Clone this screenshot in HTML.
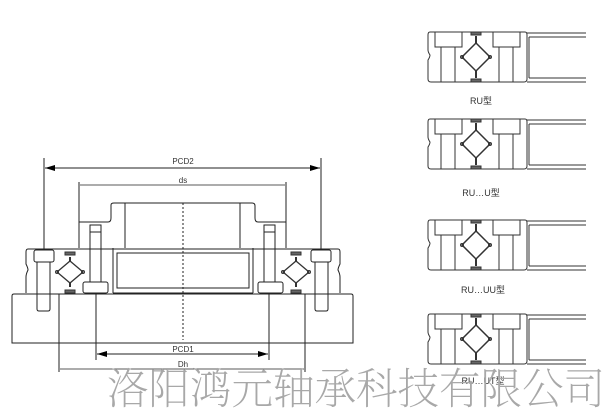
<!DOCTYPE html>
<html><head><meta charset="utf-8"><style>
html,body{margin:0;padding:0;background:#fff;width:614px;height:410px;overflow:hidden}
svg{display:block}
text{font-family:"Liberation Sans","Noto Sans CJK SC",sans-serif}
</style></head><body>
<svg width="614" height="410" viewBox="0 0 614 410" xmlns="http://www.w3.org/2000/svg">
<defs>
<marker id="a" viewBox="0 0 10 6" refX="10" refY="3" markerWidth="10" markerHeight="6" orient="auto-start-reverse" markerUnits="userSpaceOnUse"><path d="M0,0L10,3L0,6z" fill="#000"/></marker>
<g id="sb" fill="none" stroke="#333" stroke-width="1">
  <path d="M430,32 H525 Q527,32 527,35 V79 Q527,82 524,82 H431 Q428,82 428,79 V60 Q430,57 430,55 Q428,52 428,50 V35 Q428,32 430,32Z"/>
  <path d="M435,32 V47 H462 V32 M441,47 V82 M455,47 V82"/>
  <path d="M493,32 V47 H520 V32 M499,47 V82 M513,47 V82"/>
  <path d="M527,33 H586 M529,37 H586 M529,37 V78 M529,78 H586 M527,82 H586"/>
  <path d="M476,36 V43 M476,71 V78" stroke-width="2"/>
  <path d="M476,43 L490,57 L476,71 L462,57Z" stroke-width="1.5"/>
  <rect x="471" y="32" width="10" height="3" fill="#666"/>
  <rect x="471" y="79" width="10" height="3" fill="#666"/>
  <circle cx="462" cy="57" r="1.5"/><circle cx="490" cy="57" r="1.5"/>
</g>
<g id="dia" fill="none" stroke="#333">
  <path d="M0,-15 V-11 M0,11 V15" stroke-width="2"/>
  <path d="M0,-11 L13,0 L0,11 L-13,0Z" stroke-width="1.3"/>
  <circle cx="-13" cy="0" r="1.5"/><circle cx="13" cy="0" r="1.5"/>
  <rect x="-5" y="-20" width="10" height="3" fill="#666"/>
  <rect x="-5" y="18" width="10" height="3" fill="#666"/>
</g>
</defs>

<use href="#sb"/>
<use href="#sb" transform="translate(0,87)"/>
<use href="#sb" transform="translate(0,188)"/>
<use href="#sb" transform="translate(0,282)"/>
<g font-size="9" fill="#333" text-anchor="middle">
<text x="481" y="104">RU型</text>
<text x="481" y="196">RU…U型</text>
<text x="483" y="293">RU…UU型</text>
<text x="483" y="384">RU…UT型</text>
</g>

<g fill="none" stroke="#222" stroke-width="1">
  <path d="M44,158 V250 M321,158 V250 M79,182 V248 M286,182 V248"/>
  <path d="M45,168 H320" marker-start="url(#a)" marker-end="url(#a)"/>
  <path d="M80,185 H285" stroke-width="0.8"/>
  <path d="M97,354 H268" marker-start="url(#a)" marker-end="url(#a)"/>
  <path d="M60,369 H304" stroke-width="0.8"/>
  <path d="M96,294 V360 M269,294 V360 M59,294 V372 M305,294 V372"/>
  <path d="M79,248 V222 H108 Q111,222 111,218 V205 Q111,203 114,203 H252 Q255,203 255,206 V218 Q255,222 258,222 H286 V248"/>
  <path d="M125,203 V248 M240,203 V248"/>
  <path d="M183,203 V340" stroke-dasharray="2,2"/>
  <path d="M28,249 H338 Q340,249 340,252 V264 Q338,268 338,270 Q340,274 340,277 V293 M28,249 Q26,249 26,252 V264 Q28,268 28,270 Q26,274 26,277 V293"/>
  <path d="M113,248 V293 M253,248 V293 M117,253 H249 V288 H117Z M113,293 H253"/>
  <path d="M14,294 H351 Q353,294 353,296 V343 H12 V296 Q12,294 14,294Z"/>
  <path d="M37,262 V309 Q37,311 39,311 H48 Q50,311 50,309 V262"/>
  <rect x="34" y="250" width="20" height="12" rx="2"/>
  <path d="M315,262 V309 Q315,311 317,311 H326 Q328,311 328,309 V262"/>
  <rect x="311" y="250" width="20" height="12" rx="2"/>
  <path d="M90,282 V225 H101 V282 M90,232 H101"/>
  <rect x="83" y="282" width="25" height="11" rx="2"/>
  <path d="M264,282 V225 H275 V282 M264,232 H275"/>
  <rect x="258" y="282" width="25" height="11" rx="2"/>
</g>
<use href="#dia" transform="translate(70,272)"/>
<use href="#dia" transform="translate(296,272)"/>
<g font-size="8" fill="#333" text-anchor="middle">
<text x="183" y="164">PCD2</text>
<text x="183" y="183">ds</text>
<text x="183" y="352">PCD1</text>
<text x="183" y="367">Dh</text>
</g>

<text x="107" y="404" font-size="43" font-weight="200" fill="#a8a8a8" textLength="498" lengthAdjust="spacingAndGlyphs" style='font-family:"Noto Serif CJK SC","Noto Sans CJK SC",serif'>洛阳鸿元轴承科技有限公司</text>
</svg>
</body></html>
